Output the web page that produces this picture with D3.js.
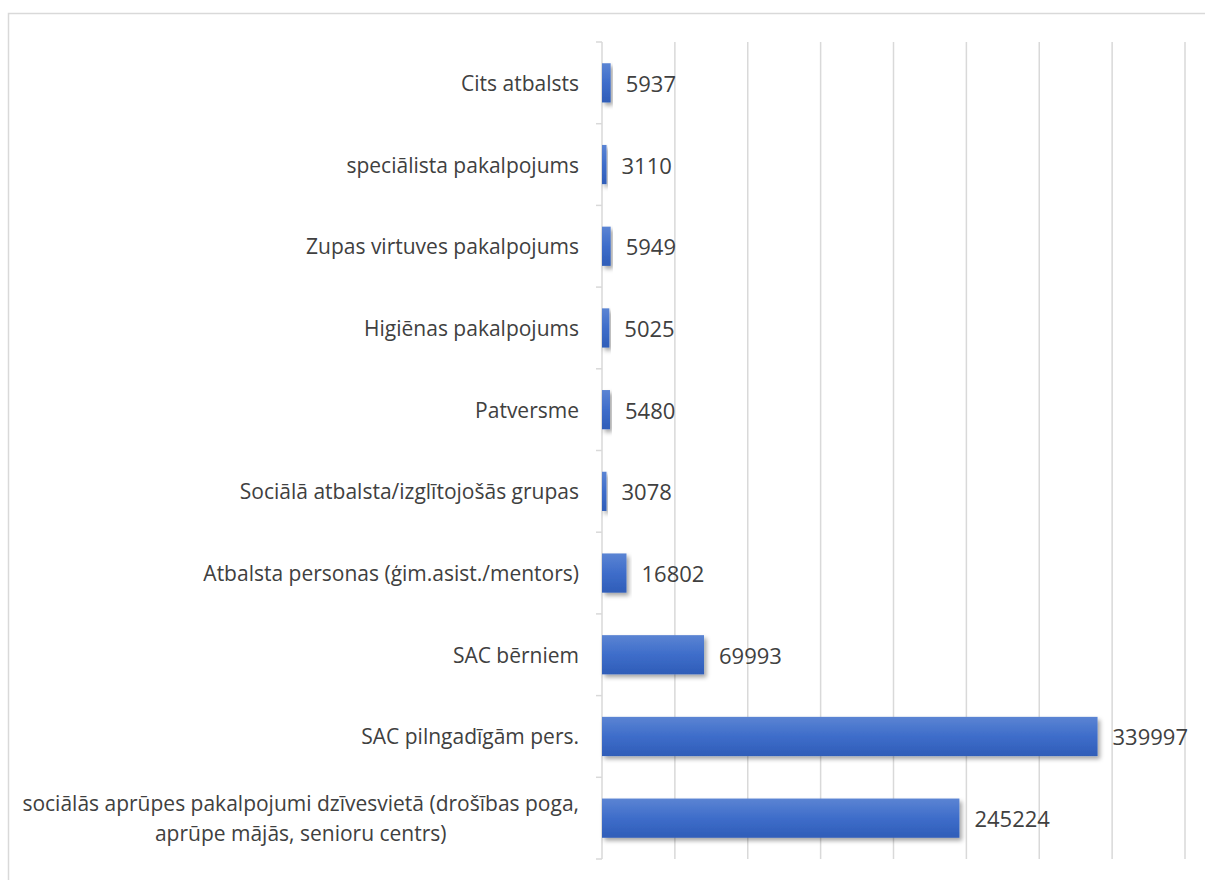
<!DOCTYPE html>
<html>
<head>
<meta charset="utf-8">
<script src="https://cdn.jsdelivr.net/npm/d3@7"></script>
<style>
  body { margin: 0; background: #fff; }
  text { font-family: "Open Sans", "Noto Sans", sans-serif; fill: #404040; }
</style>
</head>
<body>
<div id="chart"></div>
<script>
// data, top to bottom
const categories = [
  'Cits atbalsts',
  'speciālista pakalpojums',
  'Zupas virtuves pakalpojums',
  'Higiēnas pakalpojums',
  'Patversme',
  'Sociālā atbalsta/izglītojošās grupas',
  'Atbalsta personas (ģim.asist./mentors)',
  'SAC bērniem',
  'SAC pilngadīgām pers.',
  'sociālās aprūpes pakalpojumi dzīvesvietā (drošības poga,|aprūpe mājās, senioru centrs)'
]
const values = [5937, 3110, 5949, 5025, 5480, 3078, 16802, 69993, 339997, 245224]
const xTicks = [0, 50000, 100000, 150000, 200000, 250000, 300000, 350000, 400000]

const dataset = categories.map((c, i) => ({ name: c, value: values[i] }))

const width = 1205
const height = 880
const plot = { left: 602, right: 1185, top: 42, bottom: 859 }

const svg = d3.select('#chart')
  .append('svg')
  .attr('width', width)
  .attr('height', height)

// outer chart border
svg.append('rect')
  .attr('x', 8.5).attr('y', 13.5)
  .attr('width', 1210).attr('height', 900)
  .attr('fill', 'none')
  .attr('stroke', '#d9d9d9')
  .attr('stroke-width', 1.5)

const defs = svg.append('defs')
const grad = defs.append('linearGradient')
  .attr('id', 'barGrad')
  .attr('x1', 0).attr('y1', 0).attr('x2', 0).attr('y2', 1)
grad.append('stop').attr('offset', '0%').attr('stop-color', '#5b84d3')
grad.append('stop').attr('offset', '50%').attr('stop-color', '#3e6dca')
grad.append('stop').attr('offset', '100%').attr('stop-color', '#2f5db8')

const shadow = defs.append('filter')
  .attr('id', 'shadow')
  .attr('x', '-20%').attr('y', '-30%')
  .attr('width', '140%').attr('height', '180%')
shadow.append('feDropShadow')
  .attr('dx', 2.5).attr('dy', 3)
  .attr('stdDeviation', 2)
  .attr('flood-color', '#000')
  .attr('flood-opacity', 0.35)

//scales
const xScale = d3.scaleLinear()
  .domain([0, 400000])
  .range([plot.left, plot.right])

const yScale = d3.scaleBand()
  .domain(categories)
  .range([plot.top, plot.bottom])
  .paddingInner(0.52)
  .paddingOuter(0.26)

const yBand = d3.scaleBand()
  .domain(categories)
  .range([plot.top, plot.bottom])

// gridlines
svg.append('g')
  .selectAll('line')
  .data(xTicks.slice(1))
  .join('line')
  .attr('x1', d => xScale(d)).attr('x2', d => xScale(d))
  .attr('y1', plot.top).attr('y2', plot.bottom)
  .attr('stroke', '#d9d9d9')
  .attr('stroke-width', 1.5)

// y axis line + ticks at band boundaries
const yAxisGroup = svg.append('g')
yAxisGroup.append('line')
  .attr('x1', plot.left).attr('x2', plot.left)
  .attr('y1', plot.top).attr('y2', plot.bottom)
  .attr('stroke', '#d9d9d9')
  .attr('stroke-width', 1.5)
const bounds = categories.map(c => yBand(c)).concat([plot.bottom])
yAxisGroup.selectAll('.tick')
  .data(bounds)
  .join('line')
  .attr('class', 'tick')
  .attr('x1', plot.left - 6).attr('x2', plot.left)
  .attr('y1', d => d).attr('y2', d => d)
  .attr('stroke', '#d9d9d9')
  .attr('stroke-width', 1.5)

// bars
svg.append('g')
  .selectAll('rect')
  .data(dataset)
  .join('rect')
  .attr('x', xScale(0))
  .attr('y', d => yScale(d.name))
  .attr('width', d => xScale(d.value) - xScale(0))
  .attr('height', yScale.bandwidth())
  .attr('fill', 'url(#barGrad)')
  .attr('filter', 'url(#shadow)')

// value labels
svg.append('g')
  .selectAll('text')
  .data(dataset)
  .join('text')
  .attr('x', d => xScale(d.value) + 15)
  .attr('y', d => yBand(d.name) + yBand.bandwidth() / 2)
  .attr('dominant-baseline', 'central')
  .style('font-size', '22px')
  .text(d => d.value)

// category labels, multi-line centered as a block
const labelGroup = svg.append('g')
dataset.forEach(d => {
  const lines = d.name.split('|')
  const cy = yBand(d.name) + yBand.bandwidth() / 2
  const lh = 30
  const t = labelGroup.append('text')
    .style('font-size', '21px')
    .attr('dominant-baseline', 'central')
  lines.forEach((ln, i) => {
    t.append('tspan').attr('y', cy + (i - (lines.length - 1) / 2) * lh).text(ln)
  })
  // widest line is right aligned at 579, other lines centred under it
  const widths = t.selectAll('tspan').nodes().map(n => n.getComputedTextLength())
  const maxW = d3.max(widths)
  t.attr('text-anchor', 'middle')
  t.selectAll('tspan').attr('x', 579 - maxW / 2)
})
</script>
</body>
</html>
